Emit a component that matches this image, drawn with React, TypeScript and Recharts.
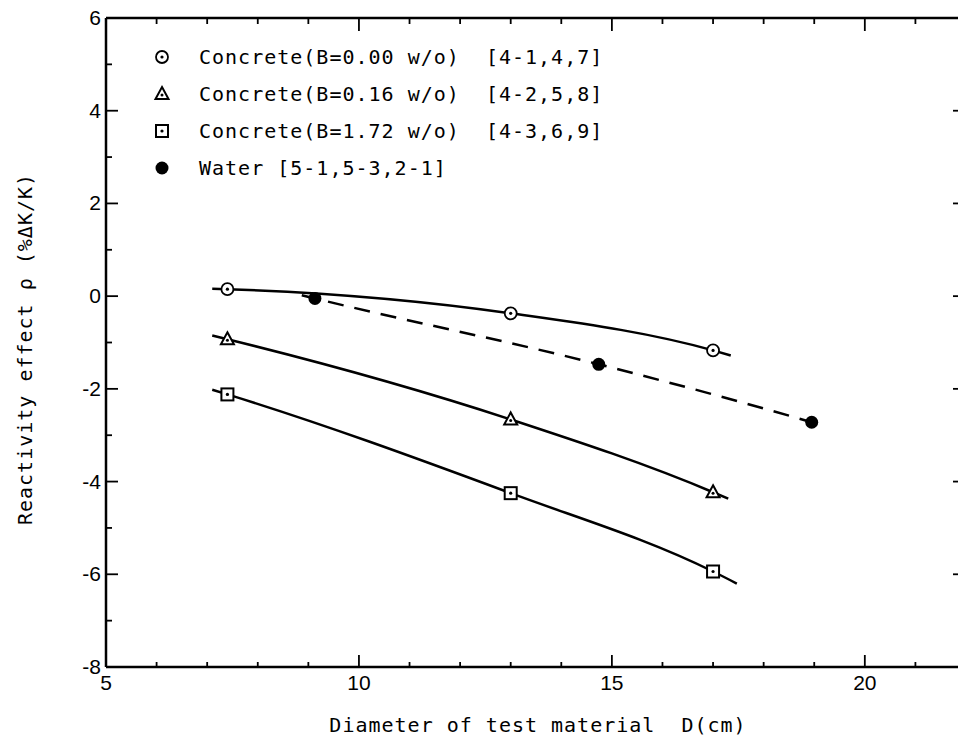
import React from "react";
import { ComposedChart, Legend, Line, Scatter, XAxis, YAxis } from "recharts";

// axis ticks
const xTicks = [5, 6, 7, 8, 9, 10, 11, 12, 13, 14, 15, 16, 17, 18, 19, 20, 21, 22];
const xLabels = [5, 10, 15, 20];
const yTicks = [-8, -7, -6, -5, -4, -3, -2, -1, 0, 1, 2, 3, 4, 5, 6];
const yLabels = [-8, -6, -4, -2, 0, 2, 4, 6];

// measured points
const concreteX = [7.4, 13.0, 17.0];
const conc000 = [0.15, -0.37, -1.17];
const conc016 = [-0.93, -2.66, -4.23];
const conc172 = [-2.12, -4.25, -5.94];
const waterX = [9.13, 14.74, 18.95];
const water = [-0.05, -1.47, -2.72];

// fitted curves as drawn on the figure (they run a little past the points)
const fit000X = [7.1, 7.4, 13, 17, 17.35];
const fit000 = [0.16, 0.15, -0.37, -1.17, -1.28];
const fit016X = [7.1, 7.4, 13, 17, 17.3];
const fit016 = [-0.85, -0.93, -2.66, -4.23, -4.37];
const fit172X = [7.1, 7.4, 13, 17, 17.47];
const fit172 = [-2.02, -2.12, -4.25, -5.94, -6.2];
const fitWaterX = [8.87, 9.13, 14.74, 18.95, 19.2];
const fitWater = [0.02, -0.05, -1.47, -2.72, -2.8];

const legendItems = [
  { label: "Concrete(B=0.00 w/o)  [4-1,4,7]", kind: "circle" },
  { label: "Concrete(B=0.16 w/o)  [4-2,5,8]", kind: "triangle" },
  { label: "Concrete(B=1.72 w/o)  [4-3,6,9]", kind: "square" },
  { label: "Water [5-1,5-3,2-1]", kind: "filled" },
];

const pts = (xs: number[], ys: number[]) => xs.map((x, i) => ({ x, y: ys[i] }));

const MONO = "'DejaVu Sans Mono', monospace";
const SANS = "'Liberation Sans', Arial, sans-serif";

function Marker({ kind, cx, cy }: { kind: string; cx: number; cy: number }) {
  if (kind === "circle")
    return (
      <g>
        <circle cx={cx} cy={cy} r={6} fill="#fff" stroke="#000" strokeWidth={1.8} />
        <circle cx={cx} cy={cy} r={1.6} fill="#000" />
      </g>
    );
  if (kind === "triangle")
    return (
      <g>
        <path
          d={`M${cx},${cy - 7} L${cx + 6.5},${cy + 5} L${cx - 6.5},${cy + 5} Z`}
          fill="#fff"
          stroke="#000"
          strokeWidth={2}
        />
        <circle cx={cx} cy={cy + 1} r={1.5} fill="#000" />
      </g>
    );
  if (kind === "square")
    return (
      <g>
        <rect x={cx - 6} y={cy - 6} width={12} height={12} fill="#fff" stroke="#000" strokeWidth={2} />
        <circle cx={cx} cy={cy} r={1.6} fill="#000" />
      </g>
    );
  return <circle cx={cx} cy={cy} r={6.5} fill="#000" />;
}

const shapeOf = (kind: string) => (p: any) => <Marker kind={kind} cx={p.cx} cy={p.cy} />;

const BottomTick = (p: any) => {
  const { x, y, payload } = p;
  const major = xLabels.includes(payload.value);
  return (
    <g>
      <line x1={x} x2={x} y1={y} y2={y - (major ? 12 : 5)} stroke="#000" strokeWidth={1.8} />
      {major && (
        <text x={x} y={y + 23} textAnchor="middle" fontSize={21} fontFamily={SANS} fill="#000">
          {payload.value}
        </text>
      )}
    </g>
  );
};

const TopTick = (p: any) => {
  const { x, y, payload } = p;
  const major = payload.value % 5 === 0;
  return <line x1={x} x2={x} y1={y} y2={y + (major ? 13 : 6)} stroke="#000" strokeWidth={1.8} />;
};

const LeftTick = (p: any) => {
  const { x, y, payload } = p;
  const major = yLabels.includes(payload.value);
  return (
    <g>
      <line x1={x} x2={x + (major ? 12 : 6)} y1={y} y2={y} stroke="#000" strokeWidth={1.8} />
      {major && (
        <text x={x - 5} y={y} dy={7} textAnchor="end" fontSize={21} fontFamily={SANS} fill="#000">
          {payload.value}
        </text>
      )}
    </g>
  );
};

const RightTick = (p: any) => {
  const { x, y, payload } = p;
  if (!yLabels.includes(payload.value)) return <g />;
  return <line x1={x} x2={x - 13} y1={y} y2={y} stroke="#000" strokeWidth={1.8} />;
};

const LegendBox = () => (
  <div style={{ fontFamily: MONO, fontSize: 20, letterSpacing: 1, color: "#000" }}>
    {legendItems.map((it) => (
      <div key={it.label} style={{ display: "flex", alignItems: "center", height: 37 }}>
        <svg width={20} height={20} style={{ marginRight: 27 }}>
          <Marker kind={it.kind} cx={10} cy={10} />
        </svg>
        <span style={{ whiteSpace: "pre" }}>{it.label}</span>
      </div>
    ))}
  </div>
);

const lineProps = {
  type: "monotone" as const,
  dataKey: "y",
  stroke: "#000",
  strokeWidth: 2.5,
  dot: false,
  activeDot: false,
  isAnimationActive: false,
  legendType: "none" as const,
};

export default function App() {
  return (
    <div
      style={{
        position: "fixed",
        left: 0,
        top: 0,
        width: 958,
        height: 740,
        overflow: "hidden",
        background: "#fff",
      }}
    >
      <ComposedChart width={975} height={740} margin={{ top: 17, right: 8, left: 0, bottom: 0 }}>
        <XAxis
          dataKey="x"
          type="number"
          domain={[5, 22]}
          ticks={xTicks}
          interval={0}
          tick={BottomTick}
          tickLine={false}
          tickSize={0}
          tickMargin={0}
          height={73}
          axisLine={{ stroke: "#000", strokeWidth: 2.5 }}
          label={{
            content: () => (
              <text x={538} y={732} textAnchor="middle" fontSize={20} fontFamily={MONO} letterSpacing={1} fill="#000" style={{ whiteSpace: "pre" }}>
                Diameter of test material  D(cm)
              </text>
            ),
          }}
        />
        <XAxis
          xAxisId="top"
          dataKey="x"
          orientation="top"
          type="number"
          domain={[5, 22]}
          ticks={xTicks}
          interval={0}
          tick={TopTick}
          tickLine={false}
          tickSize={0}
          tickMargin={0}
          height={1}
          axisLine={{ stroke: "#000", strokeWidth: 2.5 }}
        />
        <YAxis
          dataKey="y"
          type="number"
          domain={[-8, 6]}
          ticks={yTicks}
          interval={0}
          tick={LeftTick}
          tickLine={false}
          tickSize={0}
          tickMargin={0}
          width={106}
          axisLine={{ stroke: "#000", strokeWidth: 2.5 }}
          label={{
            content: () => (
              <text
                x={25}
                y={349}
                transform="rotate(-90 25 349)"
                textAnchor="middle"
                dy={7}
                fontSize={20}
                fontFamily={MONO}
                letterSpacing={1}
                fill="#000"
              >
                Reactivity effect ρ (%ΔK/K)
              </text>
            ),
          }}
        />
        <YAxis
          yAxisId="right"
          dataKey="y"
          orientation="right"
          type="number"
          domain={[-8, 6]}
          ticks={yTicks}
          interval={0}
          tick={RightTick}
          tickLine={false}
          tickSize={0}
          tickMargin={0}
          width={1}
          axisLine={false}
        />
        <Legend
          layout="vertical"
          align="center"
          verticalAlign="middle"
          content={LegendBox}
          wrapperStyle={{ left: 152, top: 38, width: 500, height: 150 }}
        />
        <Line {...lineProps} data={pts(fit000X, fit000)} />
        <Line {...lineProps} data={pts(fit016X, fit016)} />
        <Line {...lineProps} data={pts(fit172X, fit172)} />
        <Line {...lineProps} data={pts(fitWaterX, fitWater)} strokeDasharray="16 11" />
        {/* same curve bound to the mirrored frame axes so they get drawn */}
        <Line {...lineProps} data={pts(fit000X, fit000)} xAxisId="top" yAxisId="right" stroke="none" />
        <Scatter data={pts(concreteX, conc000)} shape={shapeOf("circle")} isAnimationActive={false} legendType="none" />
        <Scatter data={pts(concreteX, conc016)} shape={shapeOf("triangle")} isAnimationActive={false} legendType="none" />
        <Scatter data={pts(concreteX, conc172)} shape={shapeOf("square")} isAnimationActive={false} legendType="none" />
        <Scatter data={pts(waterX, water)} shape={shapeOf("filled")} isAnimationActive={false} legendType="none" />
      </ComposedChart>
    </div>
  );
}
